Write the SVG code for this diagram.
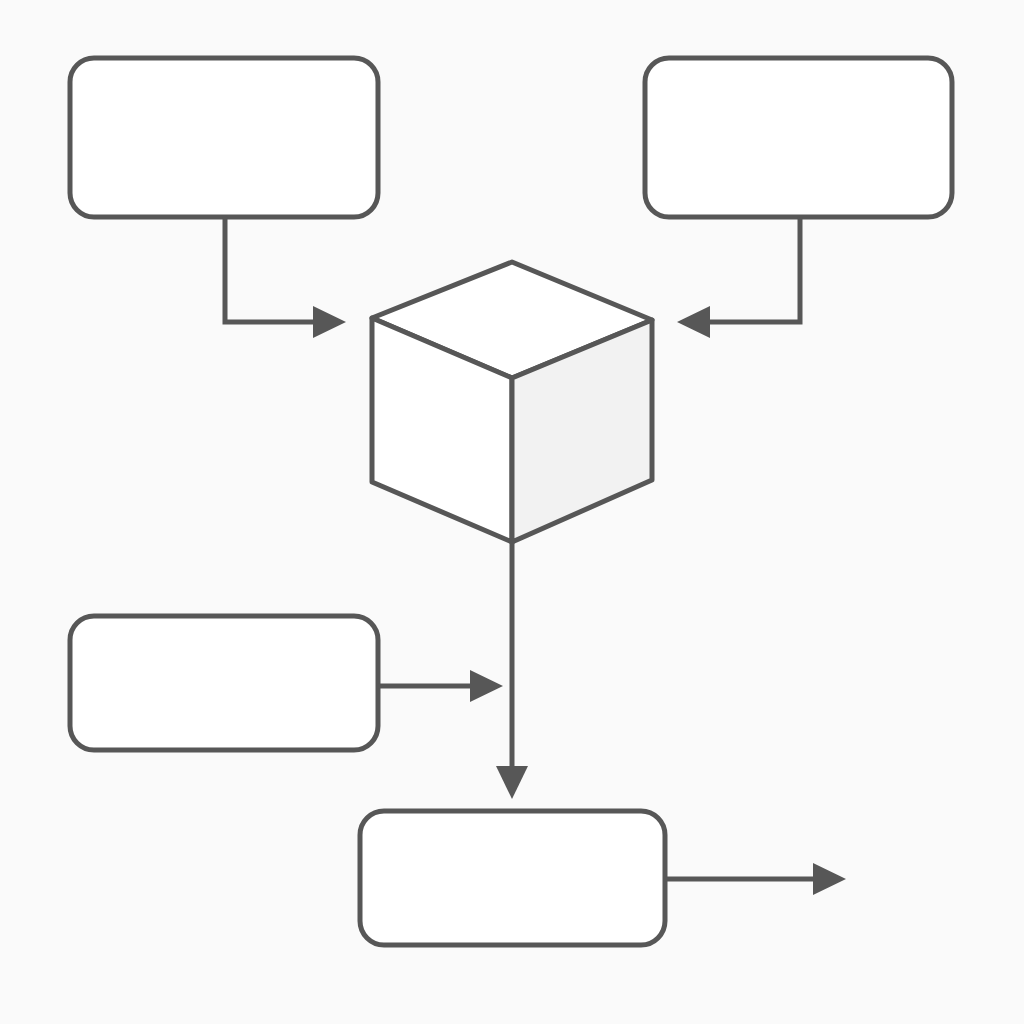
<svg xmlns="http://www.w3.org/2000/svg" width="1024" height="1024" viewBox="0 0 1024 1024">
<style>
.box{fill:#fff;stroke:#575757;stroke-width:5;stroke-linejoin:round}
.ln{fill:none;stroke:#575757;stroke-width:5}
</style>
<defs>
<marker id="ah" markerUnits="userSpaceOnUse" markerWidth="34" markerHeight="34" viewBox="0 0 34 34" refX="27" refY="17" orient="auto">
<polygon points="0,1 33,17 0,33" fill="#575757"/>
</marker>
</defs>
<rect width="1024" height="1024" fill="#fafafa"/>
<g id="box-top-left"><rect class="box" x="70" y="58" width="308" height="159" rx="24"/></g>
<g id="box-top-right"><rect class="box" x="645" y="58" width="307" height="159" rx="24"/></g>
<g id="box-mid-left"><rect class="box" x="70" y="616" width="308" height="134" rx="24"/></g>
<g id="box-bottom"><rect class="box" x="360" y="811" width="305" height="134" rx="24"/></g>
<g id="cube">
<polygon class="box" points="512,262 652,320 512,378 372,318"/>
<polygon class="box" points="372,318 512,378 512,542 372,482"/>
<polygon class="box" style="fill:#f2f2f2" points="512,378 652,320 652,480 512,542"/>
</g>
<g id="connectors">
<polyline class="ln" points="225,217 225,322 340,322" marker-end="url(#ah)"/>
<polyline class="ln" points="800,217 800,322 683,322" marker-end="url(#ah)"/>
<polyline class="ln" points="512,542 512,793" marker-end="url(#ah)"/>
<polyline class="ln" points="378,686 497,686" marker-end="url(#ah)"/>
<polyline class="ln" points="665,879 840,879" marker-end="url(#ah)"/>
</g>
</svg>
